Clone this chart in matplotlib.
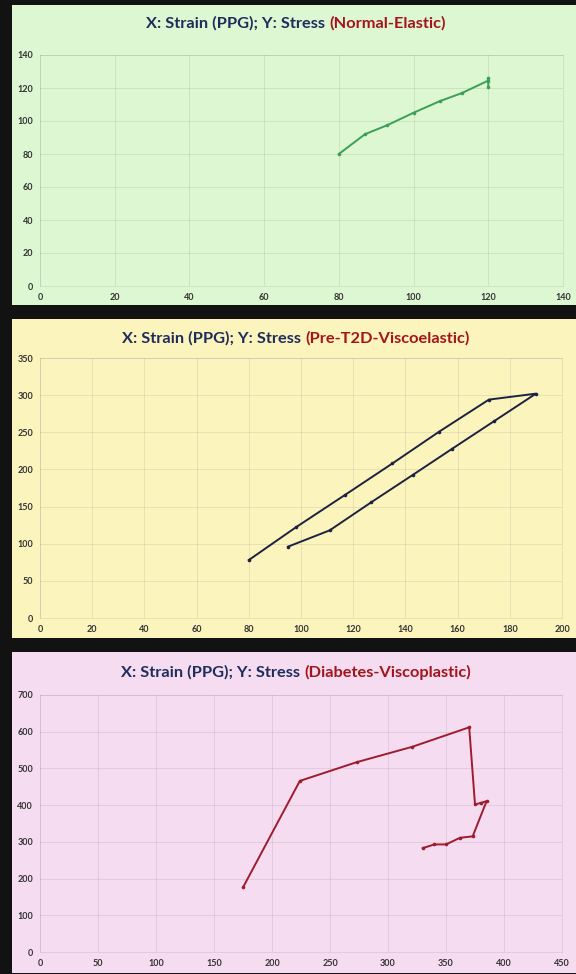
import matplotlib
matplotlib.use("Agg")
import matplotlib.pyplot as plt
from matplotlib.patches import Rectangle

plt.rcParams['font.family'] = ['Lato', 'DejaVu Sans']

# Normal (elastic) stress-strain path
normal_strain = [80, 87, 93, 100, 107, 113, 120, 120, 120]
normal_stress = [80, 92, 97.5, 105, 112, 117, 124.5, 126, 120.5]

# Pre-T2D (viscoelastic) loading / unloading loop
pre_strain = [80, 98, 117, 135, 153, 172, 190, 174, 158, 143, 127, 111, 95]
pre_stress = [78, 122, 166, 208, 251, 294, 302, 265, 228, 193, 156, 118, 96]

# Diabetes (viscoplastic) path
dia_strain = [175, 224, 273, 321, 370, 375, 380, 385, 373, 362, 350, 340, 330]
dia_stress = [176, 466, 517, 559, 612, 402, 406, 411, 315, 311, 293, 293, 283]

W, H = 576, 974
fig = plt.figure(figsize=(W / 100, H / 100), dpi=100, facecolor='#121212')

TITLE_BLUE = '#1f2d5c'
TITLE_RED = '#a3141c'


def px_box(x0, y0, x1, y1):
    """pixel box (top-left origin) -> figure fraction [l, b, w, h]"""
    return [x0 / W, 1 - y1 / H, (x1 - x0) / W, (y1 - y0) / H]


def two_colour_title(y_px, cx_px, label):
    y = 1 - y_px / H
    t1 = fig.text(0, y, 'X: Strain (PPG); Y: Stress', color=TITLE_BLUE,
                  fontsize=11.8, fontweight='bold', va='center', ha='left')
    t2 = fig.text(0, y, label, color=TITLE_RED,
                  fontsize=11.8, fontweight='bold', va='center', ha='left')
    r = fig.canvas.get_renderer()
    w1 = t1.get_window_extent(r).width
    w2 = t2.get_window_extent(r).width
    gap = 4
    left = cx_px - (w1 + gap + w2) / 2
    t1.set_x(left / W)
    t2.set_x((left + w1 + gap) / W)


def panel(panel_box, axes_box, bg, xs, ys, color, xmax, xstep, ymax, ystep,
          title, title_y):
    l, b, w, h = px_box(*panel_box)
    fig.add_artist(Rectangle((l, b), w, h, transform=fig.transFigure,
                             facecolor=bg, edgecolor='none', zorder=0))
    ax = fig.add_axes(px_box(*axes_box))
    ax.set_facecolor('none')
    ax.plot(xs, ys, color=color, lw=1.4, marker='o', ms=2.6,
            markeredgewidth=0, zorder=3)
    ax.set_xlim(0, xmax)
    ax.set_ylim(0, ymax)
    ax.set_xticks(range(0, xmax + 1, xstep))
    ax.set_yticks(range(0, ymax + 1, ystep))
    ax.grid(True, color='#8a8a8a', alpha=0.22, lw=0.6)
    for s in ax.spines.values():
        s.set_color('#8a8a8a')
        s.set_alpha(0.22)
        s.set_linewidth(0.6)
    ax.tick_params(length=0, labelsize=6.5, labelcolor='#333333', pad=5)
    for lab in ax.get_xticklabels() + ax.get_yticklabels():
        lab.set_fontweight('bold')
    two_colour_title(title_y, 296, title)
    return ax


panel((12, 5, 576, 305), (40, 55, 563, 286), '#dcf7d1',
      normal_strain, normal_stress, '#3a9f58', 140, 20, 140, 20,
      '(Normal-Elastic)', 23)

panel((12, 319, 576, 638), (40, 358, 562, 618), '#fcf4bd',
      pre_strain, pre_stress, '#1c2340', 200, 20, 350, 50,
      '(Pre-T2D-Viscoelastic)', 338)

panel((12, 652, 576, 973), (40, 695, 562, 952), '#f5dcf0',
      dia_strain, dia_stress, '#9e1c2e', 450, 50, 700, 100,
      '(Diabetes-Viscoplastic)', 672)

fig.savefig('out.png', dpi=100, facecolor=fig.get_facecolor())
